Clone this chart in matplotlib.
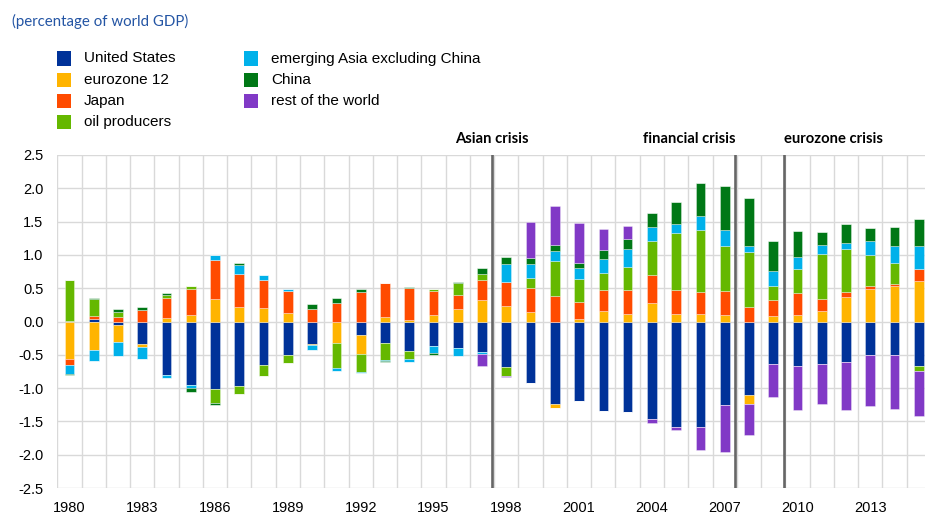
import matplotlib
matplotlib.use("Agg")
import matplotlib.pyplot as plt
from matplotlib.patches import Rectangle
import numpy as np

years = list(range(1980, 2016))

series_names = ["United States", "eurozone 12", "Japan", "oil producers",
                "emerging Asia excluding China", "China", "rest of the world"]
colors = ["#003299", "#FFB400", "#FF4B00", "#65B800", "#00B1EA", "#007816", "#8139C6"]

united_states = [0.01, 0.035, -0.055, -0.34, -0.81, -0.96, -1.02, -0.97, -0.655, -0.505,
                 -0.34, 0.0, -0.205, -0.33, -0.445, -0.375, -0.405, -0.455, -0.69, -0.92,
                 -1.24, -1.2, -1.34, -1.355, -1.465, -1.59, -1.59, -1.26, -1.105, -0.645,
                 -0.675, -0.645, -0.61, -0.505, -0.505, -0.67]
eurozone = [-0.565, -0.425, -0.26, -0.045, 0.05, 0.095, 0.335, 0.22, 0.21, 0.135,
            -0.02, -0.33, -0.29, 0.065, 0.03, 0.095, 0.185, 0.325, 0.23, 0.14,
            -0.065, 0.045, 0.16, 0.115, 0.285, 0.11, 0.11, 0.095, -0.13, 0.08,
            0.095, 0.155, 0.375, 0.485, 0.535, 0.605]
japan = [-0.09, 0.045, 0.065, 0.175, 0.3, 0.4, 0.59, 0.5, 0.42, 0.32,
         0.185, 0.28, 0.445, 0.51, 0.475, 0.36, 0.22, 0.3, 0.365, 0.36,
         0.385, 0.255, 0.315, 0.36, 0.415, 0.36, 0.335, 0.365, 0.22, 0.245,
         0.335, 0.18, 0.07, 0.05, 0.025, 0.185]
oil_producers = [0.62, 0.255, 0.075, 0.0, 0.045, 0.035, -0.205, -0.115, -0.16, -0.125,
                 0.0, -0.375, -0.26, -0.25, -0.125, 0.03, 0.175, 0.085, -0.13, 0.155,
                 0.52, 0.335, 0.26, 0.34, 0.515, 0.855, 0.935, 0.68, 0.825, 0.21,
                 0.355, 0.68, 0.64, 0.46, 0.315, -0.08]
emerging_asia = [-0.135, -0.165, -0.2, -0.185, -0.045, -0.035, 0.07, 0.125, 0.075, 0.04,
                 -0.065, -0.035, -0.025, -0.015, -0.04, -0.105, -0.11, -0.04, 0.275, 0.215,
                 0.15, 0.175, 0.2, 0.27, 0.205, 0.145, 0.21, 0.23, 0.095, 0.22,
                 0.19, 0.13, 0.095, 0.21, 0.265, 0.35]
china = [-0.01, 0.015, 0.045, 0.04, 0.035, -0.065, -0.03, 0.03, 0.0, 0.0,
         0.075, 0.07, 0.04, -0.02, 0.02, -0.02, 0.01, 0.095, 0.105, 0.085,
         0.09, 0.07, 0.14, 0.15, 0.205, 0.325, 0.495, 0.66, 0.72, 0.45,
         0.39, 0.205, 0.29, 0.195, 0.28, 0.405]
rest_of_world = [0, 0, 0, 0, 0, 0, 0, 0, 0, 0,
                 0, 0, 0, 0, 0, 0, 0, -0.17, -0.015, 0.54,
                 0.59, 0.6, 0.32, 0.205, -0.055, -0.035, -0.345, -0.705, -0.465, -0.495,
                 -0.66, -0.6, -0.715, -0.76, -0.81, -0.675]

all_series = [united_states, eurozone, japan, oil_producers, emerging_asia, china, rest_of_world]

crisis_labels = ["Asian crisis", "financial crisis", "eurozone crisis"]
crisis_years = [1997.42, 2007.44, 2009.44]
yticks = [-2.5, -2.0, -1.5, -1.0, -0.5, 0.0, 0.5, 1.0, 1.5, 2.0, 2.5]

W, H = 925, 516
fig = plt.figure(figsize=(W / 100, H / 100), dpi=100)

def fx(x):
    return x / W

def fy(y):
    return 1 - y / H

ax_left, ax_right, ax_top, ax_bot = 57.3, 931.0, 155.0, 488.0
ax = fig.add_axes([fx(ax_left), fy(ax_bot), (ax_right - ax_left) / W, (ax_bot - ax_top) / H])

x = np.arange(len(years))
pos_bottom = np.zeros(len(years))
neg_bottom = np.zeros(len(years))
for name, vals, col in zip(series_names, all_series, colors):
    v = np.array(vals, dtype=float)
    p = np.where(v > 0, v, 0)
    n = np.where(v < 0, v, 0)
    ax.bar(x, p, bottom=pos_bottom, width=0.4, color=col,
           edgecolor=(1, 1, 1, 0.35), linewidth=0.7, zorder=3)
    ax.bar(x, n, bottom=neg_bottom, width=0.4, color=col,
           edgecolor=(1, 1, 1, 0.35), linewidth=0.7, zorder=3)
    pos_bottom += p
    neg_bottom += n

ax.set_xlim(-0.5, len(years) - 0.5)
ax.set_ylim(-2.5, 2.5)
ax.set_yticks(yticks)
ax.set_yticklabels([f"{v:.1f}" for v in yticks])
tick_idx = list(range(0, len(years), 3))
ax.set_xticks(tick_idx)
ax.set_xticklabels([str(years[i]) for i in tick_idx])
ax.set_xticks(np.arange(-0.5, len(years), 1), minor=True)
ax.tick_params(axis="both", which="both", length=0, labelsize=10.5, colors="#000000")
ax.tick_params(axis="y", pad=10)
ax.tick_params(axis="x", pad=9)
for lab in ax.get_xticklabels() + ax.get_yticklabels():
    lab.set_fontfamily("Liberation Sans")

ax.grid(axis="y", which="major", color="#d9d9d9", linewidth=1.0, zorder=0)
ax.grid(axis="x", which="minor", color="#d9d9d9", linewidth=1.0, zorder=0)
ax.grid(axis="x", which="major", visible=False)
for s in ax.spines.values():
    s.set_visible(False)

for cy in crisis_years:
    ax.axvline(cy - years[0], color="#666666", linewidth=1.9, zorder=4)

label_ha = ["center", "right", "left"]
for lab, cy, ha in zip(crisis_labels, crisis_years, label_ha):
    ax.text(cy - years[0], 2.5 + 16 / 66.6, lab, ha=ha, va="center",
            fontsize=10.6, fontweight="bold", family="Lato", color="#000000")

fig.text(fx(12), fy(21), "(percentage of world GDP)", ha="left", va="center",
         fontsize=10.8, family="Lato", color="#2455a4")

for i, (name, col) in enumerate(zip(series_names, colors)):
    c, r = divmod(i, 4)
    x0 = 57 + c * 187
    yc = 58.5 + r * 21.3
    fig.add_artist(Rectangle((fx(x0), fy(yc + 7)), 14 / W, 14 / H,
                             transform=fig.transFigure, facecolor=col, edgecolor="none"))
    fig.text(fx(x0 + 27), fy(yc), name, ha="left", va="center",
             fontsize=11, family="Liberation Sans", color="#000000")

fig.savefig("out.png", dpi=100)
